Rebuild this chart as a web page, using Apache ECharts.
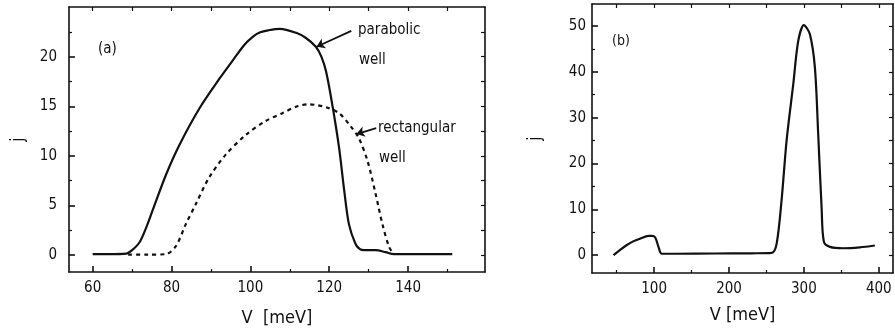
<!DOCTYPE html>
<html><head><meta charset="utf-8">
<script src="https://cdn.jsdelivr.net/npm/echarts@6/dist/echarts.min.js"></script>
<style>html,body{margin:0;padding:0;background:#fff}#c{width:895px;height:332px}</style>
</head><body><div id="c"></div>
<script>
// Panel (a): parabolic well (solid) and rectangular well (dashed)
const paraV = [60,64,68.5,70,71.9,73.5,75.2,78.6,82,87.1,92.2,95.5,98.5,100.6,102.5,104.5,107.5,111.6,114,116.6,118,119.2,120.8,122.5,123.8,125,126.7,127.8,128.8,131.8,134.3,136.4,151.2];
const paraJ = [0.1,0.1,0.15,0.5,1.3,2.7,4.5,8.1,11.1,14.8,17.8,19.6,21.2,22.0,22.45,22.65,22.8,22.4,21.9,21.0,20.0,18.5,15.1,10.8,6.5,3.1,1.1,0.6,0.5,0.5,0.3,0.1,0.1];
const rectV = [69,74,78.6,81.1,83.6,86.1,89.5,93.7,98.8,103.8,108.1,111.9,114.9,117,119.2,122.5,125.4,127.5,129.7,131.8,133.5,135.2,136.4];
const rectJ = [0.05,0.05,0.1,0.9,3.1,5.1,7.8,10.1,12.1,13.5,14.3,15.0,15.2,15.1,14.9,14.3,13.0,11.8,9.5,6.1,3.1,0.8,0.1];
// Panel (b)
const bV = [45.7,55,63.6,72,81.3,92.4,97,101.3,105.8,110.2,130,180,230,256.9,263.6,270.2,276.9,285.8,292.4,300,308,314.7,319.1,323.6,326.7,334.7,352.4,374.7,394.7];
const bJ = [0,1.2,2.2,3.0,3.6,4.2,4.2,3.9,1.8,0.3,0.3,0.35,0.4,0.5,2.5,12,25,37.3,46.7,50.2,48.2,40.9,26.4,10.5,2.9,1.8,1.5,1.7,2.1];
// tick labels
const aXMajor = [60,80,100,120,140];
const aXMinor = [70,90,110,130,150];
const aYMajor = [0,5,10,15,20];
const aYMinor = [2.5,7.5,12.5,17.5,22.5];
const bXMajor = [100,200,300,400];
const bXMinor = [50,150,250,350];
const bYMajor = [0,10,20,30,40,50];
const bYMinor = [5,15,25,35,45];

const FONT = "'DejaVu Sans Condensed','Liberation Sans Narrow',sans-serif";
const INK = '#111';
const pairs = (xs, ys) => xs.map((x, i) => [x, ys[i]]);

function axisSet(grid, pos, min, max, major, minor, showLabel, name, nameGap, labelMargin) {
  const base = {gridIndex:grid, type:'value', min:min, max:max, position:pos, splitLine:{show:false}};
  const a1 = Object.assign({}, base, {
    axisLine:{show:true, onZero:false, lineStyle:{color:INK,width:1.6}},
    axisTick:{show:true, inside:true, length:6, customValues:major, lineStyle:{color:INK,width:1.6}},
    axisLabel:{show:showLabel, customValues:major, color:INK, fontFamily:FONT, fontSize:15, margin:labelMargin},
  });
  if (name) {
    Object.assign(a1, {name:name, nameLocation:'middle', nameGap:nameGap,
      nameTextStyle:{color:INK, fontFamily:FONT, fontSize:name==='j'?17:18}});
    if (pos === 'left') a1.nameRotate = 90;
  }
  const a2 = Object.assign({}, base, {
    axisLine:{show:false, onZero:false},
    axisTick:{show:true, inside:true, length:3, customValues:minor, lineStyle:{color:INK,width:1.2}},
    axisLabel:{show:false}
  });
  return [a1, a2];
}
function mirror(grid, pos, min, max, vals) {
  return {gridIndex:grid, type:'value', min:min, max:max, position:pos, splitLine:{show:false},
    axisLine:{show:true, onZero:false, lineStyle:{color:INK,width:1.6}},
    axisTick:{show:true, inside:true, length:4, customValues:vals, lineStyle:{color:INK,width:1.2}},
    axisLabel:{show:false}};
}

const aXmin = 54, aXmax = 159.5, aYmin = -1.7, aYmax = 25;
const bXmin = 17, bXmax = 419, bYmin = -3.9, bYmax = 54.8;

const xAxes = [
  ...axisSet(0,'bottom',aXmin,aXmax,aXMajor,aXMinor,true,'V  [meV]',37,9),
  mirror(0,'top',aXmin,aXmax,aXMajor.concat(aXMinor)),
  ...axisSet(1,'bottom',bXmin,bXmax,bXMajor,bXMinor,true,'V [meV]',33,9),
  mirror(1,'top',bXmin,bXmax,bXMajor.concat(bXMinor)),
];
const yAxes = [
  ...axisSet(0,'left',aYmin,aYmax,aYMajor,aYMinor,true,'j',42,12),
  mirror(0,'right',aYmin,aYmax,aYMajor.concat(aYMinor)),
  ...axisSet(1,'left',bYmin,bYmax,bYMajor,bYMinor,true,'j',48,6),
  mirror(1,'right',bYmin,bYmax,bYMajor.concat(bYMinor)),
];

const chart = echarts.init(document.getElementById('c'), null, {renderer:'canvas'});
chart.setOption({
  animation:false,
  backgroundColor:'#fff',
  grid:[
    {left:69, top:7, width:416, height:268},
    {left:592, top:4, width:301, height:269}
  ],
  xAxis:xAxes,
  yAxis:yAxes,
  series:[
    {type:'line', xAxisIndex:0, yAxisIndex:0, data:pairs(paraV, paraJ), smooth:0.3, showSymbol:false,
     lineStyle:{color:INK, width:2.2},
     markLine:{silent:true, symbol:['none','arrow'], symbolSize:8, label:{show:false},
       lineStyle:{color:INK, width:1.8, type:'solid'},
       data:[[{coord:[125.6,22.6]},{coord:[116.8,21.0]}],[{coord:[131.9,12.8]},{coord:[126.9,12.2]}]]}},
    {type:'line', xAxisIndex:0, yAxisIndex:0, data:pairs(rectV, rectJ), smooth:0.3, showSymbol:false,
     lineStyle:{color:INK, width:2.2, type:[4,4]}},
    {type:'line', xAxisIndex:3, yAxisIndex:3, data:pairs(bV, bJ), smooth:0.3, showSymbol:false,
     lineStyle:{color:INK, width:2.2}}
  ],
  graphic:[
    {type:'text', left:98, top:42, style:{text:'(a)', fill:INK, font:"15px "+FONT}},
    {type:'text', left:358, top:23, style:{text:'parabolic', fill:INK, font:"15px "+FONT}},
    {type:'text', left:359, top:53, style:{text:'well', fill:INK, font:"15px "+FONT}},
    {type:'text', left:378, top:121, style:{text:'rectangular', fill:INK, font:"15px "+FONT}},
    {type:'text', left:379, top:151, style:{text:'well', fill:INK, font:"15px "+FONT}},
    {type:'text', left:612, top:34, style:{text:'(b)', fill:INK, font:"14px "+FONT}}
  ]
});
</script></body></html>
